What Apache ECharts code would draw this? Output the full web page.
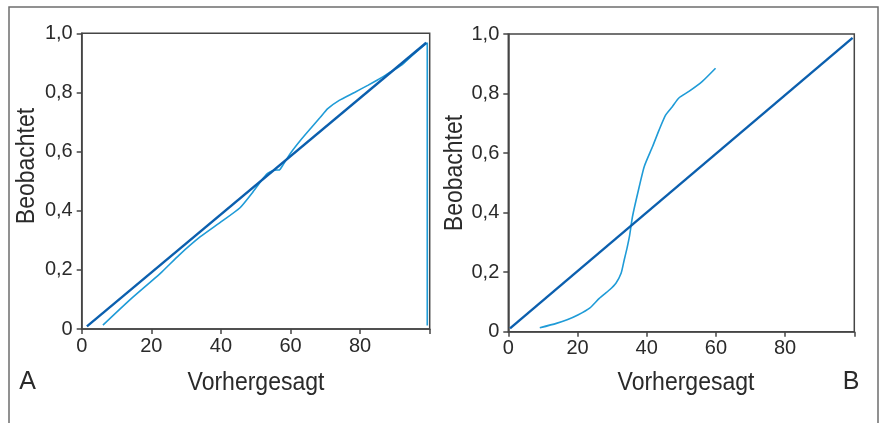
<!DOCTYPE html>
<html>
<head>
<meta charset="utf-8">
<script src="https://cdn.jsdelivr.net/npm/echarts@6/dist/echarts.min.js"></script>
<style>
html,body{margin:0;padding:0;background:#fff;}
#c{width:885px;height:423px;}
</style>
</head>
<body>
<div id="c"></div>
<script>
// ---- data ----
const xTicks = [0, 20, 40, 60, 80, 100];
const yTicks = [0, 0.2, 0.4, 0.6, 0.8, 1.0];
const xAxisTitle = 'Vorhergesagt';
const yAxisTitle = 'Beobachtet';
const panelLabels = ['A', 'B'];

// Panel A
const diagA = [[1.5, 0.009], [99, 0.968]];
const curveA = [
  [6.1, 0.013], [14, 0.10], [22.6, 0.188], [28, 0.25], [34.1, 0.312], [40, 0.362],
  [45.5, 0.410], [49, 0.46], [51.5, 0.50], [53.4, 0.526], [55.3, 0.537], [56.8, 0.538],
  [57.9, 0.556], [60.1, 0.596], [63, 0.640], [65.9, 0.680], [68.5, 0.715], [70.7, 0.745],
  [74, 0.773], [78.4, 0.800], [82.2, 0.824], [85.1, 0.843], [87.5, 0.860], [90, 0.878],
  [92, 0.893], [95, 0.925], [99.3, 0.968], [99.3, 0.012]
];

// Panel B
const diagB = [[0.5, 0.011], [99.5, 0.987]];
const curveB = [
  [9.1, 0.013], [13.9, 0.028], [17, 0.040], [20.1, 0.056], [23.5, 0.079], [26.3, 0.112],
  [29.2, 0.140], [31.1, 0.163], [32.6, 0.196], [33.5, 0.241], [34.3, 0.280], [35, 0.319],
  [35.9, 0.387], [37.4, 0.465], [39.3, 0.555], [41.7, 0.622], [43.6, 0.678], [45.5, 0.728],
  [47.4, 0.756], [49.3, 0.785], [52.2, 0.807], [56, 0.840], [59.9, 0.885]
];

const DARK = '#0b5fae';
const LIGHT = '#1f9bd7';
const AXIS = '#454545';
const TXT = '#2a2a2a';
const FONT = '"Liberation Sans", Arial, sans-serif';

function fmtY(v) {
  if (Math.abs(v) < 1e-9) return '0';
  return v.toFixed(1).replace('.', ',');
}

function xAx(i) {
  return {
    type: 'value', gridIndex: i, min: xTicks[0], max: xTicks[xTicks.length - 1], interval: 20,
    axisLine: { show: true, lineStyle: { color: AXIS, width: 1.5 } },
    axisTick: { show: true, length: 5, lineStyle: { color: AXIS, width: 1.5 } },
    axisLabel: { color: TXT, fontSize: 20, fontFamily: FONT, margin: 7,
      formatter: v => (v === 100 ? '' : String(v)) },
    splitLine: { show: false }
  };
}
function yAx(i) {
  return {
    type: 'value', gridIndex: i, min: yTicks[0], max: yTicks[yTicks.length - 1], interval: 0.2,
    axisLine: { show: true, lineStyle: { color: AXIS, width: 1.5 } },
    axisTick: { show: true, length: 5, lineStyle: { color: AXIS, width: 1.5 } },
    axisLabel: { color: TXT, fontSize: 20, fontFamily: FONT, margin: 9, formatter: fmtY },
    splitLine: { show: false }
  };
}
function line(data, color, width, xi) {
  return {
    type: 'line', data: data, xAxisIndex: xi, yAxisIndex: xi, showSymbol: false, symbol: 'none',
    smooth: 0.2, lineStyle: { color: color, width: width }, silent: true, animation: false,
    clip: false
  };
}
function title(text, x, y, rot) {
  return { type: 'text', x: x, y: y, rotation: rot, scaleX: 0.92,
    style: { text: text, fontSize: 25, fontFamily: FONT, fill: TXT, textAlign: 'center', textVerticalAlign: 'middle' } };
}

const chart = echarts.init(document.getElementById('c'), null, { renderer: 'canvas' });
chart.setOption({
  animation: false,
  grid: [
    { left: 81.7, top: 33.3, width: 348, height: 295.7, show: true, borderColor: AXIS, borderWidth: 1.5, backgroundColor: 'transparent' },
    { left: 508.3, top: 34, width: 346, height: 297.7, show: true, borderColor: AXIS, borderWidth: 1.5, backgroundColor: 'transparent' }
  ],
  xAxis: [xAx(0), xAx(1)],
  yAxis: [yAx(0), yAx(1)],
  series: [
    line(curveA, LIGHT, 1.6, 0),
    line(diagA, DARK, 2.4, 0),
    line(curveB, LIGHT, 1.6, 1),
    line(diagB, DARK, 2.4, 1)
  ],
  graphic: [
    { type: 'rect', shape: { x: 9, y: 7, width: 869, height: 430 }, style: { fill: 'none', stroke: '#6e6e6e', lineWidth: 1.5 }, silent: true },
    title(yAxisTitle, 27.5, 166, Math.PI / 2),
    title(yAxisTitle, 455, 173, Math.PI / 2),
    title(xAxisTitle, 256, 383, 0),
    title(xAxisTitle, 686, 383, 0),
    { type: 'text', x: 27.5, y: 382, style: { text: panelLabels[0], fontSize: 25, fontFamily: FONT, fill: TXT, textAlign: 'center', textVerticalAlign: 'middle' } },
    { type: 'text', x: 851, y: 382, style: { text: panelLabels[1], fontSize: 25, fontFamily: FONT, fill: TXT, textAlign: 'center', textVerticalAlign: 'middle' } }
  ]
});
</script>
</body>
</html>
